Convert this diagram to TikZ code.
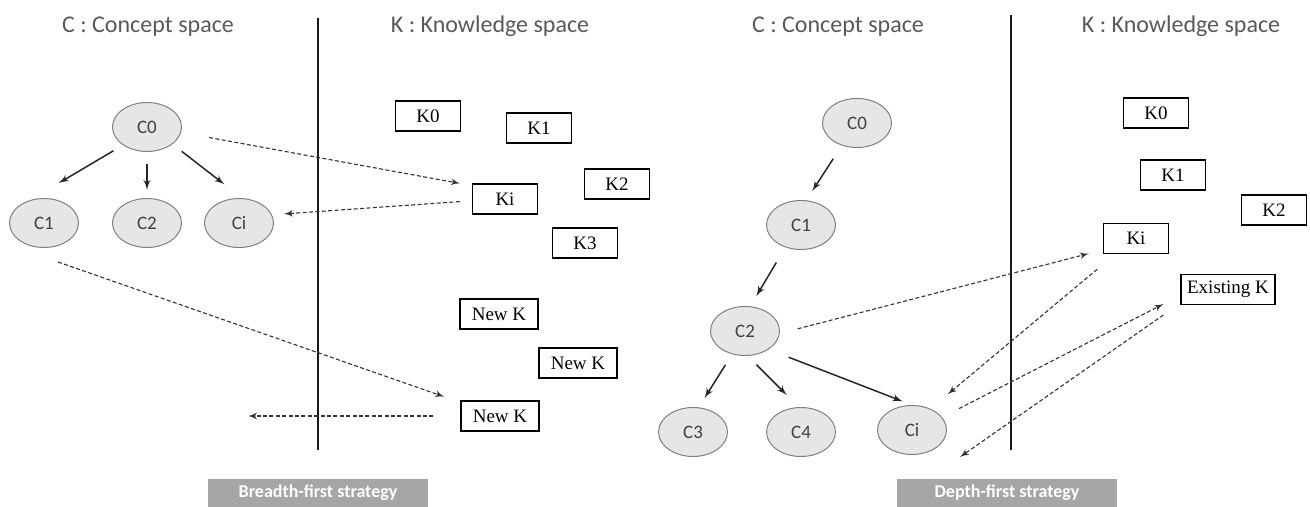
\documentclass[tikz,border=0pt]{standalone}
\usepackage{fontspec}
\setmainfont{Liberation Serif}
\setsansfont{Carlito}
\usepackage{tikz}
\usetikzlibrary{arrows,shapes.geometric}

\definecolor{ellfill}{HTML}{E6E6E6}
\definecolor{ellline}{HTML}{7F7F7F}
\definecolor{titlegray}{HTML}{595959}
\definecolor{stratgray}{HTML}{A6A6A6}
\definecolor{linkgray}{HTML}{333333}

\begin{document}
\begin{tikzpicture}[x=0.5pt,y=-0.5pt]
\tikzset{concept/.style = {shape=ellipse,draw=ellline,fill=ellfill,line width=0.5pt,
  minimum width=34.5pt,minimum height=24.5pt,inner sep=0pt,text=black!75,
  font=\sffamily\fontsize{9.5}{11}\selectfont}}
\tikzset{know/.style = {shape=rectangle,draw,line width=0.7pt,minimum width=32.5pt,
  minimum height=15pt,inner sep=1pt,font=\fontsize{9.5}{11}\selectfont}}
\tikzset{newk/.style = {know,minimum width=39pt}}
\tikzset{title/.style = {anchor=base,text=titlegray,font=\sffamily\fontsize{12}{14}\selectfont}}
\tikzset{strategy/.style = {fill=stratgray,text=white,minimum width=110pt,minimum height=14pt,
  inner sep=0pt,font=\sffamily\bfseries\fontsize{9}{10}\selectfont}}
\tikzset{edge/.style = {->,> = latex',line width=0.75pt,black!85}}
\tikzset{link/.style = {->,> = latex',line width=0.55pt,linkgray,dash pattern=on 2pt off 1.2pt}}
\tikzset{divider/.style = {line width=0.75pt,black!90}}
\useasboundingbox (0,0) rectangle (1310,507);
% titles
\node[title] (lct) at (148,33) {C : Concept space};
\node[title] (lkt) at (490,33) {K : Knowledge space};
\node[title] (rct) at (838,33) {C : Concept space};
\node[title] (rkt) at (1181,33) {K : Knowledge space};
% dividers
\draw[divider] (318,18) -- (318,450);
\draw[divider] (1011,15) -- (1011,450);
% breadth-first: vertices
\node[concept] (lc0) at (147,127) {C0};
\node[concept] (lc1) at (44,223) {C1};
\node[concept] (lc2) at (147,223) {C2};
\node[concept] (lci) at (239,223) {Ci};
\node[know] (lk0) at (428,116) {K0};
\node[know] (lk1) at (539,128) {K1};
\node[know] (lki) at (505,199) {Ki};
\node[know] (lk2) at (617,184) {K2};
\node[know] (lk3) at (585,243) {K3};
\node[newk] (ln1) at (499,314) {New K};
\node[newk] (ln2) at (578,363) {New K};
\node[newk] (ln3) at (500,416) {New K};
\coordinate (lfrom) at (58,262);
\coordinate (lto) at (248,416);
% breadth-first: edges
\draw[edge,shorten <=5.5pt,shorten >=16.6pt] (lc0.217.6) -- (lc1.121.6);
\draw[edge,shorten <=6pt,shorten >=4pt] (lc0.south) -- (lc2.north);
\draw[edge,shorten <=5.9pt,shorten >=11.2pt] (lc0.-34) -- (lci.83.8);
\draw[link,shorten <=14.2pt,shorten >=6pt] (lc0.-9.8) -- (lki.158.5);
\draw[link,shorten <=6pt,shorten >=6pt] (lki.183.9) -- (lci.14.4);
\draw[link,shorten >=8.5pt] (lfrom) -- (ln3.161);
\draw[link,shorten <=13.5pt] (ln3.west) -- (lto);
% depth-first: vertices
\node[concept] (rc0) at (857,123) {C0};
\node[concept] (rc1) at (801,225) {C1};
\node[concept] (rc2) at (745,331) {C2};
\node[concept] (rc3) at (693,432) {C3};
\node[concept] (rc4) at (801,432) {C4};
\node[concept] (rci) at (912,430) {Ci};
\node[know] (rk0) at (1156,113) {K0};
\node[know] (rk1) at (1173,175) {K1};
\node[know] (rk2) at (1274,210) {K2};
\node[know] (rki) at (1136,238.5) {Ki};
\node[know,minimum width=47pt] (rex) at (1228,289.5) {Existing K};
\coordinate (rto) at (960,457);
% depth-first: edges
\draw[edge,shorten <=7.9pt,shorten >=5.5pt] (rc0.236.4) -- (rc1.78);
\draw[edge,shorten <=8.8pt,shorten >=5.9pt] (rc1.235.7) -- (rc2.78.4);
\draw[edge,shorten <=6.3pt,shorten >=5.5pt] (rc2.241) -- (rc3.77.7);
\draw[edge,shorten <=6.2pt,shorten >=8.5pt] (rc2.-84.5) -- (rc4.95.3);
\draw[edge,shorten <=10.7pt,shorten >=5pt] (rc2.-38.6) -- (rci.north);
\draw[link,shorten <=9.2pt,shorten >=7.2pt] (rc2.-4.3) -- (rki.199.8);
\draw[link,shorten <=11.7pt,shorten >=11.3pt] (rki.217.8) -- (rci.49.4);
\draw[link,shorten <=9.5pt,shorten >=9.5pt] (rci.23) -- (rex.187);
\draw[link,shorten <=10.3pt] (rex.196.3) -- (rto);
% strategies
\node[strategy] (lbf) at (318,493) {Breadth-first strategy};
\node[strategy] (rdf) at (1007,493) {Depth-first strategy};
\end{tikzpicture}
\end{document}
